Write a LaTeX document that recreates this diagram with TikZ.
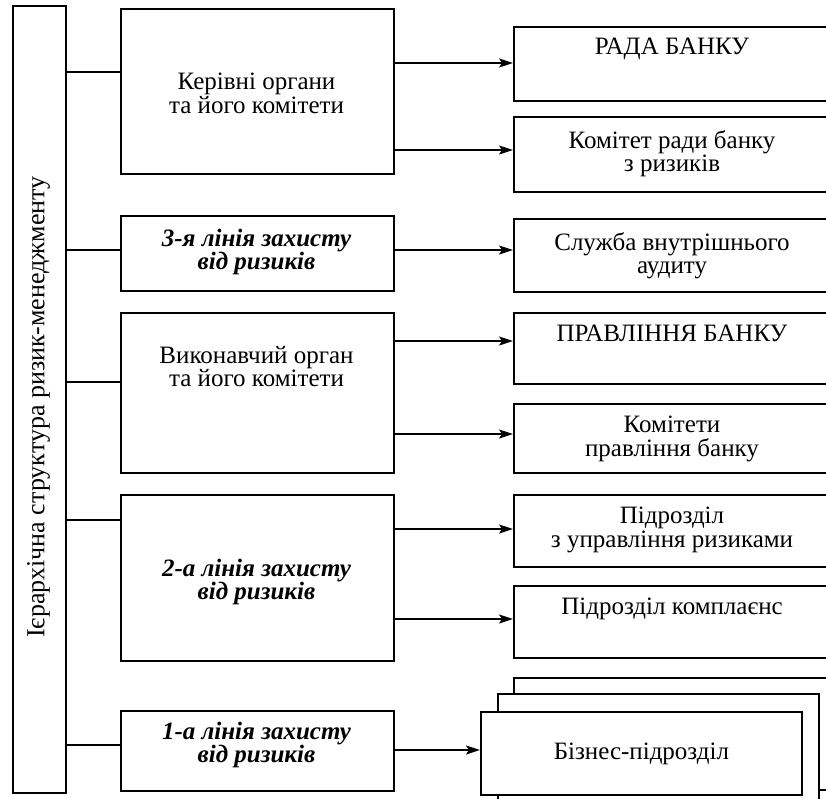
\documentclass[tikz,border=0pt]{standalone}
\usepackage{fontspec}
\setmainfont{Liberation Serif}
\usetikzlibrary{arrows.meta}

\tikzset{
  box/.style={draw, line width=1.8pt, rectangle, inner sep=0pt, anchor=north west, fill=white},
  rbox/.style={box, minimum width=318pt},
  txt/.style={font=\fontsize{25}{23.3}\selectfont, align=center, inner sep=0pt},
  btxt/.style={txt, font=\fontsize{25}{23.3}\selectfont\bfseries\itshape},
  ttxt/.style={anchor=north, execute at begin node=\strut},
  link/.style={line width=1.2pt},
  arr/.style={line width=1.7pt, -{Stealth[length=14pt,width=9pt,inset=3pt]}},
}

\begin{document}
\begin{tikzpicture}[x=1pt,y=-1pt]
  \clip (0,0) rectangle (826,798);

  % left column
  \node[box, minimum width=53pt, minimum height=787pt] (hier) at (12,5) {};
  \node[txt, font=\fontsize{26}{30}\selectfont, rotate=90] (hiert) at (38.5,407) {Ієрархічна структура ризик-менеджменту};

  % middle column
  \node[box, minimum width=273pt, minimum height=165pt] (kerivni) at (120,8) {};
  \node[txt, ttxt] (kerivnit) at (256.5,73) {Керівні органи\\та його комітети};
  \node[box, minimum width=273pt, minimum height=75pt] (line3) at (120,215) {};
  \node[btxt, ttxt] (line3t) at (256.5,229) {3-я лінія захисту\\від ризиків};
  \node[box, minimum width=273pt, minimum height=160pt] (vykon) at (120,312) {};
  \node[txt, ttxt] (vykont) at (256.5,346) {Виконавчий орган\\та його комітети};
  \node[box, minimum width=273pt, minimum height=166pt] (line2) at (120,494) {};
  \node[btxt, ttxt] (line2t) at (256.5,559) {2-а лінія захисту\\від ризиків};
  \node[box, minimum width=273pt, minimum height=80pt] (line1) at (120,710) {};
  \node[btxt, ttxt] (line1t) at (256.5,722) {1-а лінія захисту\\від ризиків};

  % right column
  \node[rbox, minimum height=74pt] (rada) at (513,26) {};
  \node[txt, ttxt] (radat) at (672,38) {РАДА БАНКУ};
  \node[rbox, minimum height=75pt] (komrady) at (513,116) {};
  \node[txt, ttxt] (komradyt) at (672,130) {Комітет ради банку\\з ризиків};
  \node[rbox, minimum height=73pt] (audyt) at (513,218) {};
  \node[txt, ttxt] (audytt) at (672,232) {Служба внутрішнього\\аудиту};
  \node[rbox, minimum height=71pt] (pravl) at (513,312) {};
  \node[txt, ttxt] (pravlt) at (672,325) {ПРАВЛІННЯ БАНКУ};
  \node[rbox, minimum height=69pt] (kompravl) at (513,403) {};
  \node[txt, ttxt] (kompravlt) at (672,416) {Комітети\\правління банку};
  \node[rbox, minimum height=72pt] (ryzyky) at (513,494) {};
  \node[txt, ttxt] (ryzykyt) at (672,507) {Підрозділ\\з управління ризиками};
  \node[rbox, minimum height=72pt] (kompl) at (513,585) {};
  \node[txt, ttxt] (komplt) at (672,598) {Підрозділ комплаєнс};

  % stacked business units
  \node[rbox, minimum width=322pt, minimum height=112pt] (biznesC) at (513,677) {};
  \node[box, minimum width=321pt, minimum height=140pt] (biznesB) at (497,693) {};
  \node[box, minimum width=321pt, minimum height=83pt, txt] (biznes) at (480,711) {Бізнес-підрозділ};

  % links from the hierarchy column
  \draw[link] (hier.east |- 0,72) -- (kerivni.west |- 0,72);
  \draw[link] (hier.east |- 0,250) -- (line3.west |- 0,250);
  \draw[link] (hier.east |- 0,382) -- (vykon.west |- 0,382);
  \draw[link] (hier.east |- 0,520) -- (line2.west |- 0,520);
  \draw[link] (hier.east |- 0,745) -- (line1.west |- 0,745);

  % arrows to the units
  \draw[arr] (kerivni.east |- 0,63) -- (rada.west |- 0,63);
  \draw[arr] (kerivni.east |- 0,150) -- (komrady.west |- 0,150);
  \draw[arr] (line3.east |- 0,250) -- (audyt.west |- 0,250);
  \draw[arr] (vykon.east |- 0,341) -- (pravl.west |- 0,341);
  \draw[arr] (vykon.east |- 0,434) -- (kompravl.west |- 0,434);
  \draw[arr] (line2.east |- 0,529) -- (ryzyky.west |- 0,529);
  \draw[arr] (line2.east |- 0,619) -- (kompl.west |- 0,619);
  \draw[arr] (line1.east |- 0,750) -- (biznes.west |- 0,750);
\end{tikzpicture}
\end{document}
